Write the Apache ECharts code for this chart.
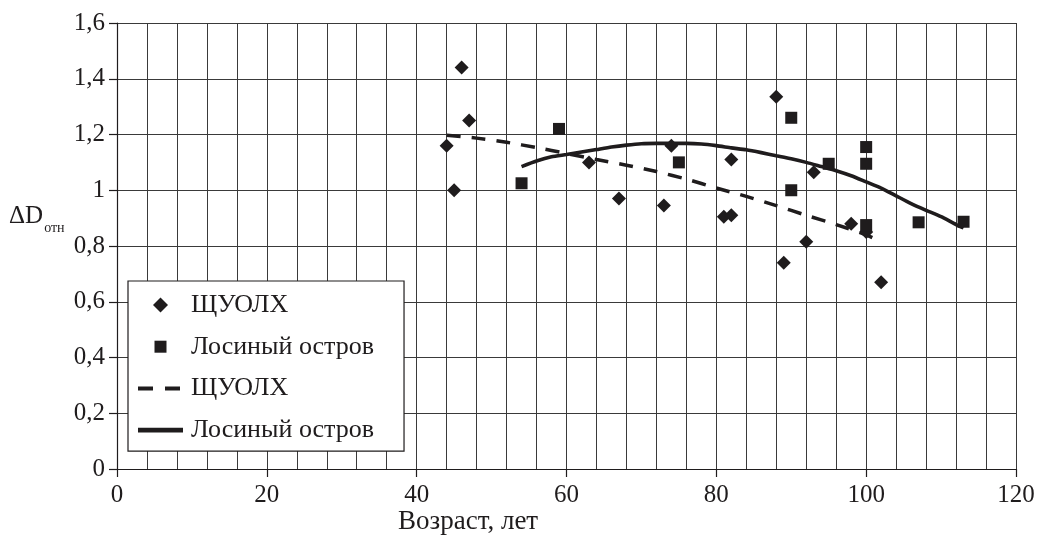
<!DOCTYPE html>
<html>
<head>
<meta charset="utf-8">
<script src="https://cdn.jsdelivr.net/npm/echarts@6/dist/echarts.min.js"></script>
<style>
  html, body { margin: 0; padding: 0; background: #ffffff; }
  #chart { width: 1038px; height: 538px; }
</style>
</head>
<body>
<div id="chart"></div>
<script>
// Measured points: age (years) and relative increment ΔD
const ageShuolkh = [44, 45, 46, 47, 63, 67, 73, 74, 81, 82, 82, 88, 89, 92, 93, 98, 100, 102];
const dShuolkh   = [1.16, 1.0, 1.44, 1.25, 1.10, 0.97, 0.945, 1.16, 0.905, 0.91, 1.11, 1.335, 0.74, 0.815, 1.065, 0.88, 0.85, 0.67];

const ageLosiny = [54, 59, 75, 90, 90, 95, 100, 100, 100, 107, 113];
const dLosiny   = [1.025, 1.22, 1.10, 1.26, 1.0, 1.095, 1.155, 1.095, 0.875, 0.885, 0.887];

// Trend curves
const trendAgeShuolkh = [44, 48, 52, 56, 60, 64, 68, 72, 76, 80, 84, 88, 92, 96, 100, 102];
const trendShuolkh    = [1.197, 1.187, 1.172, 1.153, 1.132, 1.11, 1.09, 1.067, 1.04, 1.008, 0.978, 0.945, 0.91, 0.877, 0.84, 0.815];

const trendAgeLosiny = [54, 56, 58, 60, 62, 64, 66, 68, 70, 72, 74, 76, 78, 80, 82, 84, 86, 88, 90, 92, 94, 96, 98, 100, 102, 104, 106, 108, 110, 112, 113];
const trendLosiny    = [1.085, 1.105, 1.12, 1.128, 1.137, 1.146, 1.155, 1.162, 1.167, 1.168, 1.168, 1.168, 1.166, 1.16, 1.152, 1.145, 1.135, 1.124, 1.113, 1.1, 1.085, 1.07, 1.052, 1.03, 1.008, 0.98, 0.952, 0.928, 0.905, 0.877, 0.865];

const xTicks = { min: 0, max: 120, step: 20 };
const yTicks = { min: 0, max: 1.6, step: 0.2 };

const nameShuolkh = 'ЩУОЛХ';
const nameLosiny = 'Лосиный остров';

const zip = (xs, ys) => xs.map((x, i) => [x, ys[i]]);

const ink = '#1f1c1d';
const gridColor = '#3a3a3a';
const serif = '"Liberation Serif", "DejaVu Serif", serif';

// Legend glyphs as paths (they keep their aspect inside the 45px slot);
// leading move-to points fix the bounding box so padding is preserved.
const diamondIcon = 'path://M0,-1L1,0L0,1L-1,0Z';
const squareIcon = 'path://M0,0M15,15M1.5,1.5h12v12h-12Z';
const dashedIcon = 'path://M0,0M45,0M0,0h15v4h-15ZM27,0h15v4h-15Z';
const solidIcon = 'path://M0,0h45v4.6h-45Z';

const chart = echarts.init(document.getElementById('chart'), null, { renderer: 'canvas' });

chart.setOption({
  backgroundColor: '#ffffff',
  animation: false,
  textStyle: { fontFamily: serif, color: ink },
  grid: { left: 117, right: 22, top: 23, bottom: 69, containLabel: false },
  xAxis: {
    type: 'value',
    min: xTicks.min, max: xTicks.max, interval: xTicks.step,
    axisLine: { show: true, lineStyle: { color: ink, width: 1.2 } },
    axisTick: { show: true, inside: false, length: 8, lineStyle: { color: ink, width: 1.2 } },
    axisLabel: { fontFamily: serif, fontSize: 25, color: ink, margin: 14 },
    splitLine: { show: true, lineStyle: { color: gridColor, width: 1 } },
    minorTick: { show: false, splitNumber: 5 },
    minorSplitLine: { show: true, lineStyle: { color: gridColor, width: 1 } }
  },
  yAxis: {
    type: 'value',
    min: yTicks.min, max: yTicks.max, interval: yTicks.step,
    axisLine: { show: true, lineStyle: { color: ink, width: 1.2 } },
    axisTick: { show: true, inside: false, length: 8, lineStyle: { color: ink, width: 1.2 } },
    axisLabel: {
      fontFamily: serif, fontSize: 25, color: ink, margin: 12,
      formatter: v => String(Number(v.toFixed(1))).replace('.', ',')
    },
    splitLine: { show: true, lineStyle: { color: gridColor, width: 1 } }
  },
  legend: {
    orient: 'vertical',
    left: 128, top: 281,
    backgroundColor: '#ffffff',
    borderColor: ink, borderWidth: 1.2, borderRadius: 0,
    padding: [11, 30, 8, 10],
    itemWidth: 45, itemHeight: 15, itemGap: 15.7,
    symbolKeepAspect: true,
    textStyle: { fontFamily: serif, fontSize: 26, color: ink, lineHeight: 26, padding: [0, 0, 0, 3] },
    formatter: n => n.trim(),
    data: [
      { name: nameShuolkh, icon: diamondIcon },
      { name: nameLosiny, icon: squareIcon },
      { name: nameShuolkh + ' ', icon: dashedIcon, itemStyle: { color: ink, borderWidth: 0 } },
      { name: nameLosiny + ' ', icon: solidIcon, itemStyle: { color: ink, borderWidth: 0 } }
    ]
  },
  graphic: [
    {
      type: 'text', left: 398, top: 508,
      style: { text: 'Возраст, лет', font: '27px ' + serif, fill: ink }
    },
    {
      type: 'text', left: 9, top: 204,
      style: {
        text: '{main|ΔD}{sub|отн}',
        fill: ink,
        rich: {
          main: { fontFamily: serif, fontSize: 25, fill: ink, verticalAlign: 'bottom', lineHeight: 27 },
          sub: { fontFamily: serif, fontSize: 14, fill: ink, verticalAlign: 'bottom', lineHeight: 14, padding: [0, 0, -6, 1] }
        }
      }
    }
  ],
  series: [
    {
      name: nameShuolkh,
      type: 'scatter',
      symbol: 'diamond', symbolSize: [14, 14],
      itemStyle: { color: ink, opacity: 1 },
      z: 4,
      data: zip(ageShuolkh, dShuolkh)
    },
    {
      name: nameLosiny,
      type: 'scatter',
      symbol: 'rect', symbolSize: [12, 12],
      itemStyle: { color: ink, opacity: 1 },
      z: 4,
      data: zip(ageLosiny, dLosiny)
    },
    {
      name: nameShuolkh + ' ',
      type: 'line',
      symbol: 'none', smooth: 0.2,
      lineStyle: { color: ink, width: 3.5, type: [14, 11] },
      itemStyle: { color: ink },
      z: 3,
      data: zip(trendAgeShuolkh, trendShuolkh)
    },
    {
      name: nameLosiny + ' ',
      type: 'line',
      symbol: 'none', smooth: 0.2,
      lineStyle: { color: ink, width: 3.6 },
      itemStyle: { color: ink },
      z: 3,
      data: zip(trendAgeLosiny, trendLosiny)
    }
  ]
});
</script>
</body>
</html>
